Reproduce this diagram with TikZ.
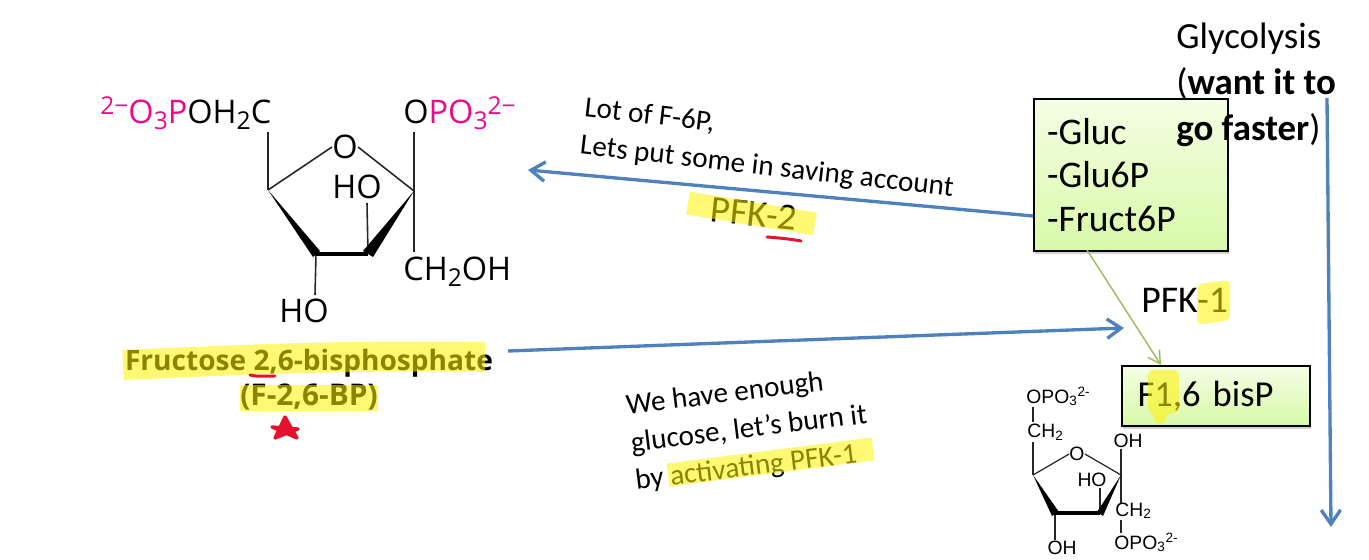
\documentclass[tikz,border=0pt]{standalone}
\usepackage{fontspec}
\setmainfont{Carlito}
\newfontfamily\chemleft{Open Sans}
\newfontfamily\chemright{Liberation Sans}
\usetikzlibrary{arrows.meta,shadows}
\definecolor{flowblue}{HTML}{4F81BD}
\definecolor{flowgreen}{HTML}{9BBB59}
\definecolor{chempink}{HTML}{EC0A8C}
\definecolor{markred}{HTML}{E8112D}
\definecolor{boxtop}{HTML}{F5FDE5}
\definecolor{boxbottom}{HTML}{D8F9A8}
\newcommand{\bigsub}[1]{\raisebox{-0.3ex}{\fontsize{14}{14}\selectfont #1}}
\newcommand{\bigsup}[1]{\raisebox{0.55ex}{\fontsize{14}{14}\selectfont #1}}
\tikzset{
  flow/.style={draw=flowblue,line width=1.9pt,-{Straight Barb[length=8pt,width=11pt,line width=1.9pt]}},
  greenbox/.style={draw=black,line width=1.2pt,top color=boxtop,bottom color=boxbottom,
    drop shadow={shadow xshift=0.5pt,shadow yshift=-1.5pt,opacity=0.35},align=left,anchor=north west,inner sep=0pt},
  hilite/.style={draw=yellow,opacity=0.55,line join=round},
  hilitefill/.style={fill=yellow,opacity=0.55,rounded corners=3pt},
  redmark/.style={draw=markred,line cap=round,line join=round},
  bigchem/.style={font=\chemleft\fontsize{18.5}{20}\selectfont,inner sep=0pt},
  smallchem/.style={font=\chemright\fontsize{11}{12}\selectfont,inner sep=0pt},
  note/.style={font=\fontsize{16.6}{21.5}\selectfont,align=left,inner sep=0pt},
  bond/.style={draw=black!85,line width=0.9pt},
  thinbond/.style={draw=black!85,line width=0.7pt}
}
\begin{document}
\begin{tikzpicture}[x=0.02cm,y=-0.02cm]
\useasboundingbox (0,0) rectangle (1369,560);

% boxes
\node[greenbox,minimum width=3.88cm,minimum height=3.04cm,text width=3.36cm,inner xsep=0.26cm,
  font=\fontsize{21.4}{25}\selectfont] (glucbox) at (1033,98) {-Gluc\\-Glu6P\\-Fruct6P};
\node[greenbox,minimum width=3.76cm,minimum height=1.2cm,text width=3.14cm,inner xsep=0.31cm,
  font=\fontsize{20.8}{22}\selectfont] (fbox) at (1121,365) {F1,6 bisP};

% glycolysis side
\node[anchor=north west,align=left,inner sep=0pt,font=\fontsize{21}{26}\selectfont] (glyco) at (1176,23)
  {Glycolysis\\(\textbf{want it to}\\\textbf{go faster})};
\coordinate (glytop) at (1327,98);
\coordinate (glyend) at (1331,527);
\draw[flow] (glytop) -- (glyend);

% connectors
\coordinate (savestart) at (1033,216);
\coordinate (saveend) at (528,170);
\coordinate (burnstart) at (508,351);
\coordinate (burnend) at (1124,328);
\coordinate (greenstart) at (1087,250);
\coordinate (greenend) at (1161,365);
\draw[flow] (savestart) -- (saveend);
\draw[flow] (burnstart) -- (burnend);
\draw[draw=flowgreen,line width=0.8pt,-{Straight Barb[length=7pt,width=8pt]}] (greenstart) -- (greenend);

% notes
\node[note,rotate=-6.5] (savenote) at (769,149) {Lot of F-6P,\\Lets put some in saving account};
\node[note,rotate=7] (burnnote) at (749,430) {We have enough\\glucose, let’s burn it\\by activating PFK-1};
\node[inner sep=0pt,rotate=-6,font=\fontsize{21.5}{22}\selectfont] (pfktwo) at (754,214) {PFK-2};
\node[inner sep=0pt,anchor=west,font=\fontsize{21.5}{22}\selectfont] (pfkone) at (1141,300) {PFK-1};

% big molecule
\coordinate (a1) at (268,190);
\coordinate (a2) at (414,191);
\coordinate (a3) at (368,254);
\coordinate (a4) at (316,254);
\node[bigchem] (aO) at (345,147) {O};
\node[bigchem,anchor=base west] (aL) at (100,124) {\textcolor{chempink}{\bigsup{2−}O\bigsub{3}P}OH\bigsub{2}C};
\node[bigchem,anchor=base west] (aR) at (403,124) {O\textcolor{chempink}{PO\bigsub{3}\bigsup{2−}}};
\node[bigchem] (aHOa) at (357,187) {HO};
\node[bigchem,anchor=base west] (aC) at (403,281) {CH\bigsub{2}OH};
\node[bigchem] (aHOb) at (304,311) {HO};
\draw[bond] (a1) -- (aO.west) (aO.east) -- (a2);
\draw[bond] (a1) -- (268,132) (a2) -- (414,132) (a2) -- (414,252);
\draw[bond] (a3) -- (367,203) (a4) -- (315,295);
\fill (a1) -- (313,257) -- (320,251) -- cycle;
\draw[line width=2.8pt] (a4) -- (a3);
\fill (a2) -- (373,257) -- (363,251) -- cycle;

% small molecule
\coordinate (b1) at (1033,475);
\coordinate (b2) at (1121,475);
\coordinate (b3) at (1100,513);
\coordinate (b4) at (1055,513);
\node[smallchem] (bO) at (1077,454) {O};
\node[smallchem,anchor=base west] (bP) at (1026,403) {OPO\textsubscript{3}\textsuperscript{2-}};
\node[smallchem,anchor=base west] (bC) at (1027,438) {CH\textsubscript{2}};
\node[smallchem] (bOHa) at (1128,441) {OH};
\node[smallchem] (bHO) at (1092,480) {HO};
\node[smallchem,anchor=base west] (bD) at (1115,516) {CH\textsubscript{2}};
\node[smallchem,anchor=base west] (bQ) at (1114,549) {OPO\textsubscript{3}\textsuperscript{2-}};
\node[smallchem] (bOHb) at (1062,548) {OH};
\draw[thinbond] (b1) -- (bO.west) (bO.east) -- (b2);
\draw[thinbond] (1033,407) -- (1033,422) (b1) -- (1033,442);
\draw[thinbond] (b2) -- (1121,449) (b2) -- (1121,503) (1121,520) -- (1121,533);
\draw[thinbond] (b3) -- (1100,488) (b4) -- (1055,540);
\fill (b1) -- (1059,512) -- (1052,516) -- cycle;
\draw[line width=1.9pt] (b4) -- (b3);
\fill (b2) -- (1103,516) -- (1097,512) -- cycle;

% name of big molecule
\node[inner sep=0pt,font=\chemleft\bfseries\fontsize{16}{17}\selectfont] (fname) at (309,363) {Fructose 2,6-bisphosphate};
\node[inner sep=0pt,font=\chemleft\bfseries\fontsize{17}{17}\selectfont] (fshort) at (309,397) {(F-2,6-BP)};

% highlighter
\draw[hilite,line width=0.6cm] (123,365) .. controls (240,360) and (330,355) .. (485,357);
\draw[hilite,line width=0.54cm] (240,398) -- (378,398);
\draw[hilite,line width=0.46cm] (688,203) -- (815,224);
\draw[hilite,line width=0.46cm] (668,475) -- (873,449);
\fill[hilitefill] (1197,284) -- (1230,280) -- (1230,320) -- (1197,325) -- cycle;
\fill[hilitefill] (1148,370) -- (1179,370) -- (1179,413) -- (1166,413) -- (1166,424) -- (1154,424) -- (1154,413) -- (1148,413) -- cycle;

% red marks
\draw[redmark,line width=1.7pt] (250,375) .. controls (258,377) and (266,376) .. (275,376);
\draw[redmark,line width=1.7pt] (767,237) .. controls (780,238) and (790,239) .. (801,241);
\filldraw[redmark,fill=markred,line width=1.9pt] (275,438) -- (285,417) -- (297,438) -- (272,427) -- (298,429) -- cycle;
\end{tikzpicture}
\end{document}
